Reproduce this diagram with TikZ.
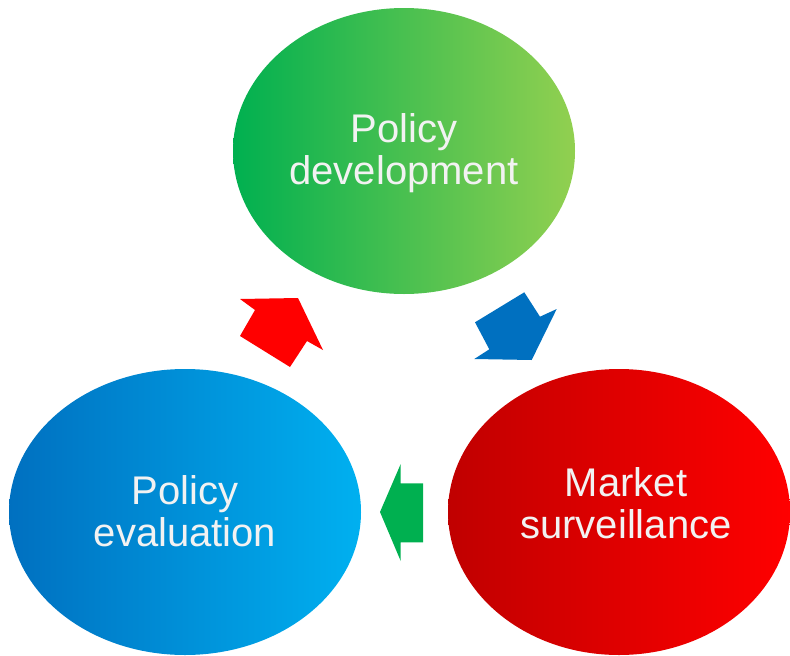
\documentclass[tikz,border=0pt]{standalone}
\usepackage{fontspec}
\setmainfont{Liberation Sans}
\usetikzlibrary{shapes.geometric}
\definecolor{gA}{RGB}{0,176,80}
\definecolor{gB}{RGB}{146,208,80}
\definecolor{bA}{RGB}{0,112,192}
\definecolor{bB}{RGB}{0,176,240}
\definecolor{rA}{RGB}{192,0,0}
\definecolor{rB}{RGB}{255,0,0}
\definecolor{txt}{RGB}{242,242,242}
\tikzset{
  blob/.style={ellipse, inner sep=0pt, outer sep=0pt, draw=none},
  lbl/.style={anchor=base, text=txt, inner sep=0pt, font=\fontsize{40}{42}\selectfont},
  blockarrow/.style={draw=none}
}
\begin{document}
\begin{tikzpicture}[x=1pt,y=-1pt]
\useasboundingbox (0,0) rectangle (790,656);
% ellipses
\node[blob, minimum width=342pt, minimum height=286pt, left color=gA, right color=gB] (dev) at (404,151) {};
\node[blob, minimum width=352pt, minimum height=286pt, left color=bA, right color=bB] (eval) at (185,512) {};
\node[blob, minimum width=342pt, minimum height=286pt, left color=rA, right color=rB] (surv) at (619,512) {};
% labels
\node[lbl] (dev1) at (404,142) {Policy};
\node[lbl] (dev2) at (404,184.5) {development};
\node[lbl] (eval1) at (185,504) {Policy};
\node[lbl] (eval2) at (185,546.5) {evaluation};
\node[lbl] (surv1) at (626,496) {Market};
\node[lbl] (surv2) at (626,538) {surveillance};
% block arrows
\fill[blockarrow, fill=rB] (298,298) -- (323,350) -- (307,341) -- (290,367) -- (240,336) -- (255,310) -- (240,299) -- cycle;
\fill[blockarrow, fill=bA] (524.3,292.3) -- (540,316.7) -- (556.7,309) -- (531.7,360) -- (474.3,359) -- (489.3,349.3) -- (475,322.3) -- cycle;
\fill[blockarrow, fill=gA] (380,512) -- (400.7,464) -- (400.7,483.3) -- (423,483.3) -- (423,542.3) -- (400.7,542.3) -- (400.7,561) -- cycle;
\end{tikzpicture}
\end{document}
